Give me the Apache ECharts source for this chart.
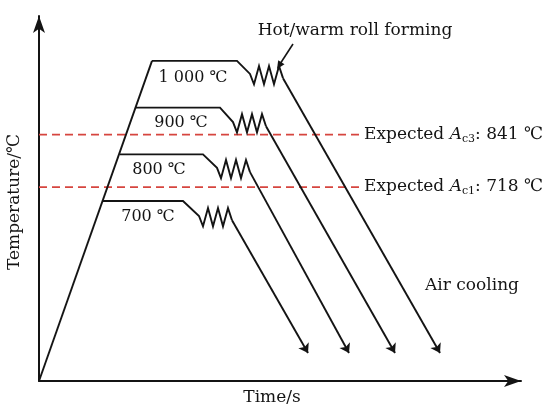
<!DOCTYPE html>
<html>
<head>
<meta charset="utf-8">
<script src="https://cdn.jsdelivr.net/npm/echarts@6/dist/echarts.min.js"></script>
<style>
html,body{margin:0;padding:0;background:#fff;}
#chart{width:549px;height:410px;}
</style>
</head>
<body>
<div id="chart"></div>
<script>
// ---- data (time in arbitrary units, temperature in ℃, schematic) ----
const heatingLine = [[0, 315], [113, 1000]];
// plateau start, plateau end, zig-zag (roll forming) points, cooling start, cooling end (arrow)
const profile1000 = [[113,1000],[198,1000],[211,972],[215,950],[220,989],[225,950],[230,989],[235,950],[240,989],[244,963],[401,375]];
const profile900  = [[97,900],[181,900],[194,869],[198,847],[203,886],[208,847],[213,886],[218,847],[223,886],[227,860],[356,375]];
const profile800  = [[81,800],[164,800],[178,771],[182,749],[187,788],[192,749],[197,788],[202,749],[207,788],[211,762],[310,375]];
const profile700  = [[64,700],[144,700],[160,668],[164,646],[169,685],[174,646],[179,685],[184,646],[189,685],[193,659],[269,375]];
const plateauLabels = ['1 000 ℃', '900 ℃', '800 ℃', '700 ℃'];
// expected transformation temperatures: labelled values and level where the dashed line is drawn
const expectedNames = ['c3', 'c1'];
const expectedValues = ['841', '718'];
const expectedDrawnLevels = [842, 730];
const expectedSpan = [0, 323];

const profiles = [profile1000, profile900, profile800, profile700];
const ink = '#141414';
const red = '#d6453f';
const serif = '"DejaVu Serif", "Liberation Serif", serif';

const chart = echarts.init(document.getElementById('chart'), null, {renderer: 'canvas'});

const series = [];
series.push({
  type: 'line', data: heatingLine, symbol: 'none', silent: true,
  lineStyle: {color: ink, width: 1.9}, z: 3
});
profiles.forEach(p => {
  series.push({
    type: 'line', data: p.slice(0, p.length - 1), symbol: 'none', silent: true,
    lineStyle: {color: ink, width: 1.9, join: 'miter'}, z: 3
  });
});
series.push({
  type: 'lines', coordinateSystem: 'cartesian2d', silent: true, z: 3,
  symbol: ['none', 'arrow'], symbolSize: 9,
  lineStyle: {color: ink, width: 1.9, opacity: 1, curveness: 0},
  data: profiles.map(p => ({coords: [p[p.length - 2], p[p.length - 1]]}))
});
expectedDrawnLevels.forEach(lvl => {
  series.push({
    type: 'line', symbol: 'none', silent: true, z: 2,
    data: [[expectedSpan[0], lvl], [expectedSpan[1], lvl]],
    lineStyle: {color: red, width: 1.8, type: [8, 5]}
  });
});

const textStyleBase = {fontFamily: serif, fontSize: 16, fill: ink, align: 'center', verticalAlign: 'middle'};
function txt(x, y, text, extra) {
  return {type: 'text', x: x, y: y, silent: true, z: 10,
    style: Object.assign({}, textStyleBase, {text: text}, extra || {})};
}
const plateauPos = [[193, 78], [181, 123], [159, 170], [148, 217]];
const expectedPos = [[364, 135], [364, 187]];

const graphics = [];
plateauLabels.forEach((t, i) => graphics.push(txt(plateauPos[i][0], plateauPos[i][1], t)));
expectedNames.forEach((n, i) => {
  graphics.push({
    type: 'text', x: expectedPos[i][0], y: expectedPos[i][1], silent: true, z: 10,
    style: {
      text: 'Expected {i|A}{s|' + n + '}: ' + expectedValues[i] + ' ℃',
      fontFamily: serif, fontSize: 17, fill: ink, align: 'left', verticalAlign: 'middle',
      lineHeight: 20,
      rich: {
        i: {fontFamily: serif, fontSize: 17, fontStyle: 'italic', fill: ink, lineHeight: 20},
        s: {fontFamily: serif, fontSize: 11, fill: ink, verticalAlign: 'bottom', lineHeight: 13}
      }
    }
  });
});
graphics.push(txt(355, 31, 'Hot/warm roll forming', {fontSize: 17}));
graphics.push(txt(472, 286, 'Air cooling', {fontSize: 17}));
graphics.push(txt(272, 398, 'Time/s', {fontSize: 17}));
graphics.push(Object.assign(txt(15, 202, 'Temperature/℃', {fontSize: 17}), {rotation: Math.PI / 2}));
graphics.push({type: 'line', silent: true, z: 10,
  shape: {x1: 293, y1: 44, x2: 280, y2: 64}, style: {stroke: ink, lineWidth: 1.6}});
graphics.push({type: 'polygon', silent: true, z: 10,
  shape: {points: [[277, 69], [284.5, 64.2], [278.2, 60.2]]}, style: {fill: ink}});

const axisCommon = {
  type: 'value',
  axisTick: {show: false}, axisLabel: {show: false}, splitLine: {show: false},
  axisLine: {show: true, onZero: false, symbol: ['none', 'arrow'], symbolSize: [9, 17],
    lineStyle: {color: ink, width: 2}}
};

chart.setOption({
  animation: false,
  backgroundColor: '#fff',
  grid: {left: 39, right: 28, top: 16, bottom: 29, containLabel: false},
  xAxis: Object.assign({}, axisCommon, {min: 0, max: 482}),
  yAxis: Object.assign({}, axisCommon, {min: 315, max: 1096}),
  series: series,
  graphic: graphics
});
</script>
</body>
</html>
